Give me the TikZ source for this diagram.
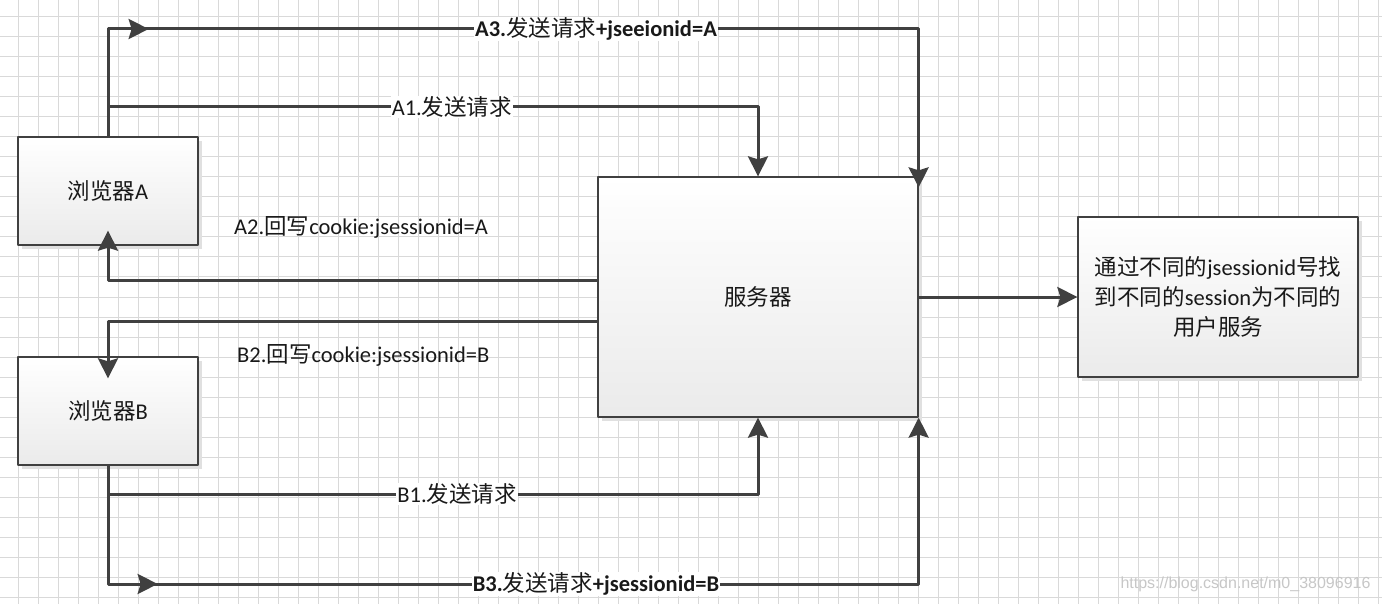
\documentclass[tikz,border=0pt]{standalone}
\usepackage{fontspec}
\setmainfont{Carlito}
\newfontfamily\cjk{Noto Sans CJK SC}
\newfontfamily\wmfont{Liberation Sans}
\usetikzlibrary{arrows.meta,shadows,decorations.markings,positioning}

\definecolor{linegray}{HTML}{404040}
\definecolor{gridgray}{HTML}{D9D9D9}
\newcommand{\zhtext}[1]{{\cjk\mdseries #1}}

\tikzset{
    box/.style={draw=linegray, line width=1.3pt, top color=white, bottom color=black!8,
        text=black!90, font=\fontsize{22.5}{30}\selectfont, align=center, inner sep=0pt,
        drop shadow={shadow xshift=4pt, shadow yshift=-4pt, fill=black!12, opacity=1}},
    conn/.style={draw=linegray, line width=3pt, -{Stealth[length=20pt,width=20pt,inset=3pt]}},
    midtip/.style={postaction={decorate}, decoration={markings,
        mark=at position #1 with {\arrow[linegray]{Stealth[length=20pt,width=20pt,inset=3pt]}}}},
    lbl/.style={fill=white, inner sep=1pt, text=black!90, font=\fontsize{22.5}{26}\selectfont},
    lblb/.style={lbl, font=\fontsize{22.5}{26}\selectfont\bfseries},
    gridline/.style={draw=gridgray, line width=1pt}
}

\begin{document}
\begin{tikzpicture}[x=1pt, y=-1pt, line join=round]

    % page and grid
    \useasboundingbox (0,0) rectangle (1382,604);
    \fill[white] (0,0) rectangle (1382,604);
    \foreach \i in {0,...,68} {
        \draw[gridline] (18+20*\i,0) -- (18+20*\i,604);
    }
    \foreach \j in {0,...,29} {
        \draw[gridline] (0,17+20*\j) -- (1382,17+20*\j);
    }

    % boxes
    \node[box, minimum width=180pt, minimum height=108pt] (browserA) at (108,191) {\zhtext{浏览器}A};
    \node[box, minimum width=180pt, minimum height=108pt] (browserB) at (108,411) {\zhtext{浏览器}B};
    \node[box, minimum width=320pt, minimum height=240pt] (server) at (758,297) {\zhtext{服务器}};
    \node[box, minimum width=280pt, minimum height=160pt] (result) at (1218,297)
        {\zhtext{通过不同的}jsessionid\zhtext{号找}\\\zhtext{到不同的}session\zhtext{为不同的}\\\zhtext{用户服务}};

    % levels of the connectors
    \coordinate (yA3) at (0,29);
    \coordinate (yA1) at (0,107);
    \coordinate (yA2) at (0,281);
    \coordinate (yB2) at (0,321);
    \coordinate (yB1) at (0,494);
    \coordinate (yB3) at (0,584);

    % browser A
    \draw[conn, midtip=148pt, shorten >=-11pt] (browserA.north) -- (browserA.north |- yA3)
        -- node[lblb, pos=0.602] {A3.\zhtext{发送请求}+jseeionid=A} (server.north east |- yA3)
        -- (server.north east);
    \draw[conn] (browserA.north |- yA1)
        -- node[lbl, pos=0.529] {A1.\zhtext{发送请求}} (server.north |- yA1) -- (server.north);
    \draw[conn, shorten >=-15pt] (server.west |- yA2) -- (browserA.south |- yA2) -- (browserA.south);
    \node[lbl, fill=none, anchor=west] (labA2) at (233,227) {A2.\zhtext{回写}cookie:jsessionid=A};

    % browser B
    \draw[conn, shorten >=-22pt] (server.west |- yB2) -- (browserB.north |- yB2) -- (browserB.north);
    \node[lbl, fill=none, anchor=west] (labB2) at (236,355) {B2.\zhtext{回写}cookie:jsessionid=B};
    \draw[conn] (browserB.south) -- (browserB.south |- yB1)
        -- node[lbl, pos=0.537] {B1.\zhtext{发送请求}} (server.south |- yB1) -- (server.south);
    \draw[conn, midtip=168pt] (browserB.south) -- (browserB.south |- yB3)
        -- node[lblb, pos=0.602] {B3.\zhtext{发送请求}+jsessionid=B} (server.south east |- yB3)
        -- (server.south east);

    % server to result
    \draw[conn] (server.east) -- (result.west);

    \node[text=black!22, font=\fontsize{16}{16}\wmfont, anchor=east] (watermark) at (1374,584)
        {https://blog.csdn.net/m0\_38096916};
\end{tikzpicture}
\end{document}
